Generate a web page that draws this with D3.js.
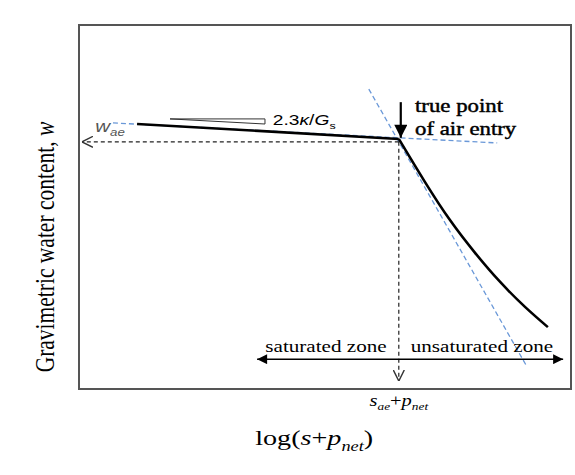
<!DOCTYPE html>
<html>
<head>
<meta charset="utf-8">
<script src="https://cdn.jsdelivr.net/npm/d3@7"></script>
<style>
  body { margin: 0; background: #fff; }
</style>
</head>
<body>
<div id="vis"></div>
<script>
// frame size and plot box
const FRAME_WIDTH = 575;
const FRAME_HEIGHT = 475;
const MARGINS = {left: 79, right: 4, top: 25, bottom: 86};
const SERIF = "'Liberation Serif', 'Times New Roman', serif";
const SANS = "'Liberation Sans', Arial, sans-serif";

// soil water retention curve (abstract units: log(s+p_net), w)
const curveX = [1.18, 6.50, 7.03, 7.54, 8.05, 8.56, 9.07, 9.53];
const curveW = [7.28, 6.87, 5.69, 4.64, 3.74, 2.94, 2.25, 1.70];

// tangent lines (blue dashed)
const flatTanX = [0.69, 8.50];
const flatTanW = [7.31, 6.76];
const steepTanX = [5.89, 9.11];
const steepTanW = [8.24, 0.60];

// air entry point and guides
const airEntryX = 6.50;
const airEntryW = 6.79;
const guideEndX = 0.06;
const guideEndW = 0.22;

// zone arrow
const zoneW = 0.82;
const zoneX = [3.62, 9.84];

// slope wedge
const wedgeX = [1.85, 3.78];
const wedgeW = [7.42, 7.28];

// true point arrow
const entryArrowX = 6.54;
const entryArrowW = [7.88, 6.90];

const STRETCH = 1.28;

const svg = d3.select("#vis")
  .append("svg")
    .attr("width", FRAME_WIDTH)
    .attr("height", FRAME_HEIGHT);

const X = d3.scaleLinear().domain([0, 10])
  .range([MARGINS.left, FRAME_WIDTH - MARGINS.right]);
const Y = d3.scaleLinear().domain([0, 10])
  .range([FRAME_HEIGHT - MARGINS.bottom, MARGINS.top]);

// markers
const defs = svg.append("defs");
defs.append("marker")
    .attr("id", "solid")
    .attr("viewBox", "0 0 10 10")
    .attr("refX", 10).attr("refY", 5)
    .attr("markerWidth", 12).attr("markerHeight", 10)
    .attr("markerUnits", "userSpaceOnUse")
    .attr("orient", "auto-start-reverse")
  .append("path")
    .attr("d", "M0,0 L10,5 L0,10 Z")
    .attr("fill", "#000");
defs.append("marker")
    .attr("id", "big")
    .attr("viewBox", "0 0 10 10")
    .attr("refX", 10).attr("refY", 5)
    .attr("markerWidth", 15).attr("markerHeight", 13)
    .attr("markerUnits", "userSpaceOnUse")
    .attr("orient", "auto")
  .append("path")
    .attr("d", "M0,0 L10,5 L0,10 Z")
    .attr("fill", "#000");
defs.append("marker")
    .attr("id", "open")
    .attr("viewBox", "0 0 10 10")
    .attr("refX", 10).attr("refY", 5)
    .attr("markerWidth", 11).attr("markerHeight", 12)
    .attr("markerUnits", "userSpaceOnUse")
    .attr("orient", "auto")
  .append("path")
    .attr("d", "M0,0 L10,5 L0,10")
    .attr("fill", "none")
    .attr("stroke", "#333")
    .attr("stroke-width", 1.3);

const line = d3.line().x(d => X(d[0])).y(d => Y(d[1]));

// frame
svg.append("rect")
    .attr("x", X(0)).attr("y", Y(10))
    .attr("width", X(10) - X(0)).attr("height", Y(0) - Y(10))
    .attr("fill", "none")
    .attr("stroke", "#555")
    .attr("stroke-width", 2);

// blue tangents
[[flatTanX, flatTanW], [steepTanX, steepTanW]].forEach(([xs, ws]) => {
  svg.append("path")
      .attr("d", line(d3.zip(xs, ws)))
      .attr("fill", "none")
      .attr("stroke", "#6a98d8")
      .attr("stroke-width", 1.3)
      .attr("stroke-dasharray", "5,3");
});

// black dashed guides
svg.append("path")
    .attr("d", line([[airEntryX, airEntryW], [guideEndX, airEntryW]]))
    .attr("fill", "none").attr("stroke", "#222")
    .attr("stroke-width", 1.2).attr("stroke-dasharray", "4,3")
    .attr("marker-end", "url(#open)");
svg.append("path")
    .attr("d", line([[airEntryX, airEntryW], [airEntryX, guideEndW]]))
    .attr("fill", "none").attr("stroke", "#222")
    .attr("stroke-width", 1.2).attr("stroke-dasharray", "4,3")
    .attr("marker-end", "url(#open)");

// retention curve: flat part then drying branch
const pts = d3.zip(curveX, curveW);
svg.append("path")
    .attr("d", line(pts.slice(0, 2)))
    .attr("fill", "none").attr("stroke", "#000").attr("stroke-width", 2.6);
svg.append("path")
    .attr("d", d3.line().x(d => X(d[0])).y(d => Y(d[1])).curve(d3.curveNatural)(pts.slice(1)))
    .attr("fill", "none").attr("stroke", "#000").attr("stroke-width", 2.6);

// slope wedge
svg.append("path")
    .attr("d", line([[wedgeX[0], wedgeW[0]], [wedgeX[1], wedgeW[0]], [wedgeX[1], wedgeW[1]]]) + "Z")
    .attr("fill", "none").attr("stroke", "#333").attr("stroke-width", 1);

// zone double arrow
svg.append("path")
    .attr("d", line([[zoneX[0], zoneW], [zoneX[1], zoneW]]))
    .attr("stroke", "#000").attr("stroke-width", 1.5)
    .attr("marker-start", "url(#solid)")
    .attr("marker-end", "url(#solid)");

// true point arrow
svg.append("path")
    .attr("d", line([[entryArrowX, entryArrowW[0]], [entryArrowX, entryArrowW[1]]]))
    .attr("stroke", "#000").attr("stroke-width", 2.2)
    .attr("marker-end", "url(#big)");

// text helper: stretched horizontally like the source
function label(px, py, family, size, anchor, parts, opts = {}) {
  const g = svg.append("g")
    .attr("transform", `translate(${px},${py}) scale(${opts.sx || STRETCH},1)` + (opts.rotate ? ` rotate(${opts.rotate})` : ""));
  const t = g.append("text")
    .attr("font-family", family)
    .attr("font-size", size)
    .attr("text-anchor", anchor)
    .attr("fill", opts.fill || "#000");
  if (opts.heavy) t.attr("stroke", "#000").attr("stroke-width", opts.heavy);
  parts.forEach(p => {
    const ts = t.append("tspan").text(p.t);
    if (p.i) ts.attr("font-style", "italic");
    if (p.sub) ts.attr("font-size", size * 0.65).attr("dy", size * 0.25);
    if (p.up) ts.attr("dy", -size * 0.25);
  });
  return t;
}

label(X(6.83), Y(7.61), SERIF, 19, "start", [{t: "true point"}], {sx: 1.2, heavy: 0.45});
label(X(6.83), Y(6.98), SERIF, 19, "start", [{t: "of air entry"}], {sx: 1.2, heavy: 0.45});

label(X(3.94), Y(7.25), SANS, 15, "start",
  [{t: "2.3"}, {t: "\u03ba", i: true}, {t: "/"}, {t: "G", i: true}, {t: "s", sub: true}]);

label(X(0.33), Y(7.06), SANS, 16, "start",
  [{t: "w", i: true}, {t: "ae", i: true, sub: true}], {fill: "#555"});

label(X(5.02), Y(1.02), SERIF, 16.5, "middle", [{t: "saturated zone"}]);
label(X(8.19), Y(1.02), SERIF, 16.5, "middle", [{t: "unsaturated zone"}]);

label(X(airEntryX), Y(0) + 17, SERIF, 16, "middle",
  [{t: "s", i: true}, {t: "ae", i: true, sub: true}, {t: "+", up: true}, {t: "p", i: true}, {t: "net", i: true, sub: true}]);

label(X(4.78), 445, SERIF, 22, "middle",
  [{t: "log("}, {t: "s", i: true}, {t: "+"}, {t: "p", i: true}, {t: "net", i: true, sub: true}, {t: ")", up: true}]);

label(54, Y(3.9), SERIF, 21.5, "middle",
  [{t: "Gravimetric water content, "}, {t: "w", i: true}], {rotate: -90});
</script>
</body>
</html>
